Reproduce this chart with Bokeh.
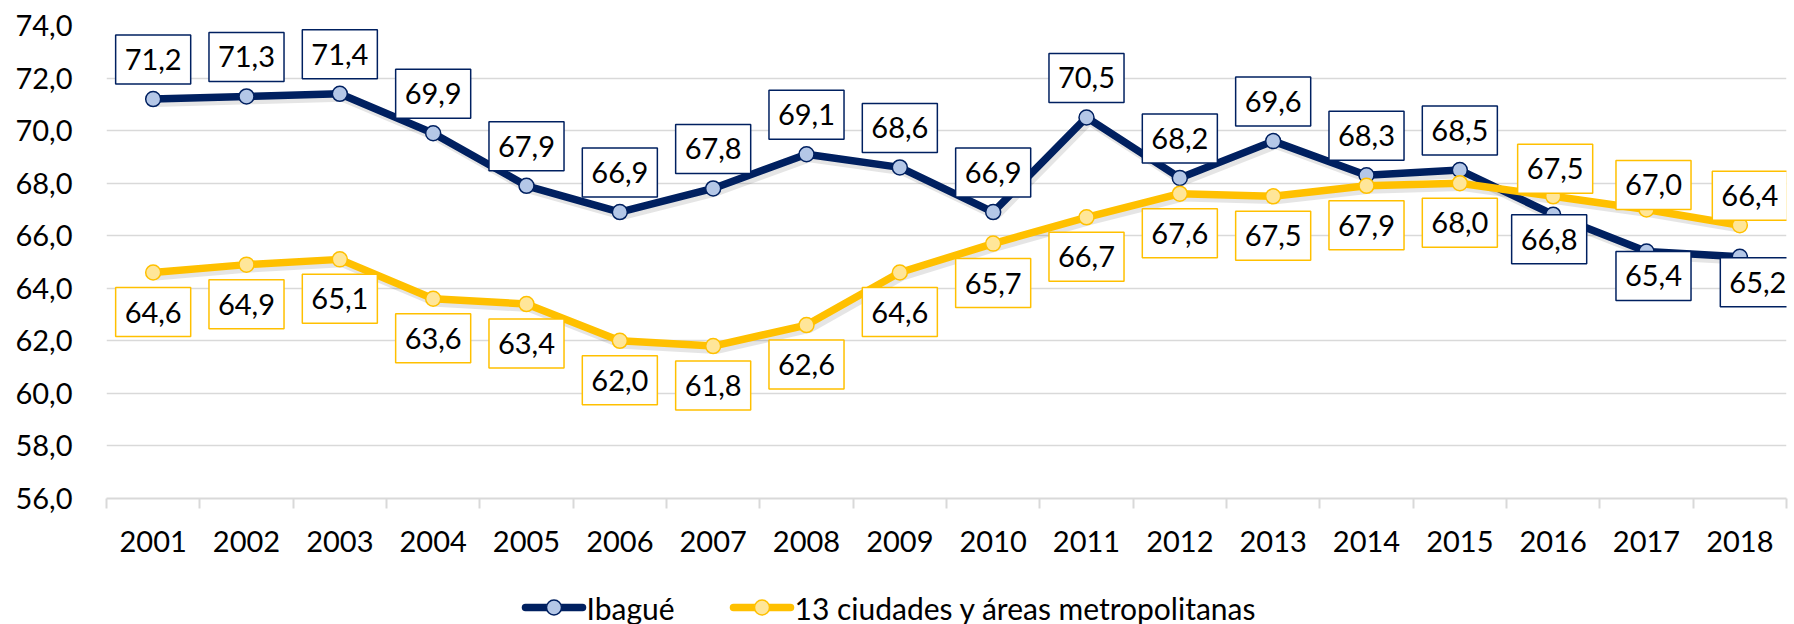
from bokeh.plotting import figure
from bokeh.layouts import column
from bokeh.models import (Range1d, FixedTicker, CustomJSTickFormatter, ColumnDataSource)
from bokeh.core.properties import value
from bokeh.embed import file_html
from bokeh.resources import INLINE

# ---------------- data ----------------
years = ["2001", "2002", "2003", "2004", "2005", "2006", "2007", "2008", "2009",
         "2010", "2011", "2012", "2013", "2014", "2015", "2016", "2017", "2018"]
ibague = [71.2, 71.3, 71.4, 69.9, 67.9, 66.9, 67.8, 69.1, 68.6,
          66.9, 70.5, 68.2, 69.6, 68.3, 68.5, 66.8, 65.4, 65.2]
ciudades = [64.6, 64.9, 65.1, 63.6, 63.4, 62.0, 61.8, 62.6, 64.6,
            65.7, 66.7, 67.6, 67.5, 67.9, 68.0, 67.5, 67.0, 66.4]
y_ticks = [56, 58, 60, 62, 64, 66, 68, 70, 72, 74]
series_names = ["Ibagué", "13 ciudades y áreas metropolitanas"]

# ---------------- label placement (style) ----------------
ibague_side = ["above"] * 15 + ["below"] * 3
ciudades_side = ["below"] * 15 + ["above"] * 3
ibague_gap = [15] * 15 + [0, 0, 1]
ciudades_gap = [15] * 15 + [3, 0, 5]
ibague_dx = [0] * 15 + [-4, 7, 18]
ciudades_dx = [0] * 15 + [2, 7, 10]

NAVY = "#002060"
NAVY_FILL = "#B4C7E7"
GOLD = "#FFC000"
GOLD_FILL = "#FFE699"
GRID = "#D9D9D9"
FONT = "Lato"
FS = "29px"
LEGEND_FS = "30px"

W = 1794
BORDER_L, BORDER_R = 106, 8

xs = [i + 0.5 for i in range(len(years))]

p = figure(width=W, height=568,
           x_range=Range1d(0, len(years)), y_range=Range1d(y_ticks[0], y_ticks[-1]),
           output_backend="svg", toolbar_location=None,
           min_border_left=BORDER_L, min_border_right=BORDER_R,
           min_border_top=25, min_border_bottom=70)
p.outline_line_color = None
p.background_fill_color = "white"
p.border_fill_color = "white"

# x axis
xa = p.xaxis[0]
xa.ticker = FixedTicker(ticks=xs, minor_ticks=list(range(len(years) + 1)))
xa.formatter = CustomJSTickFormatter(args=dict(labels=years),
                                     code="return labels[Math.floor(tick)];")
xa.axis_line_color = GRID
xa.axis_line_width = 2
xa.major_tick_line_color = None
xa.major_tick_out = 0
xa.major_tick_in = 0
xa.minor_tick_line_color = GRID
xa.minor_tick_line_width = 2
xa.minor_tick_out = 10
xa.minor_tick_in = 0
xa.major_label_standoff = 22
xa.major_label_text_font = FONT
xa.major_label_text_font_size = FS
xa.major_label_text_color = "black"

# y axis
ya = p.yaxis[0]
ya.ticker = FixedTicker(ticks=y_ticks, minor_ticks=[])
ya.formatter = CustomJSTickFormatter(code="return tick.toFixed(1).replace('.', ',');")
ya.axis_line_color = None
ya.major_tick_line_color = None
ya.major_tick_out = 0
ya.major_tick_in = 0
ya.minor_tick_line_color = None
ya.major_label_standoff = 34
ya.major_label_text_font = FONT
ya.major_label_text_font_size = FS
ya.major_label_text_color = "black"

p.xgrid.grid_line_color = None
p.ygrid.ticker = FixedTicker(ticks=y_ticks, minor_ticks=[])
p.ygrid.grid_line_color = GRID
p.ygrid.grid_line_width = 1.7

# shadows (style offsets)
SH_DX, SH_DY = 0.03, -0.13
for vals in (ibague, ciudades):
    p.line([x + SH_DX for x in xs], [v + SH_DY for v in vals],
           line_color="black", line_alpha=0.10, line_width=9, line_join="round")

src1 = ColumnDataSource(dict(x=xs, y=ibague))
src2 = ColumnDataSource(dict(x=xs, y=ciudades))
sources = [src1, src2]

LINE_STYLE = [dict(line_color=NAVY, line_width=7.5, line_join="round"),
              dict(line_color=GOLD, line_width=7.5, line_join="round")]
MARK_STYLE = [dict(marker="circle", size=15, fill_color=NAVY_FILL, line_color=NAVY, line_width=1.5),
              dict(marker="circle", size=15, fill_color=GOLD_FILL, line_color=GOLD, line_width=1.5)]

for src, ls, ms in zip(sources, LINE_STYLE, MARK_STYLE):
    p.line("x", "y", source=src, **ls)
    p.scatter("x", "y", source=src, **ms)


def add_labels(vals, sides, gaps, dxs, color):
    for side in ("above", "below"):
        idx = [i for i, s in enumerate(sides) if s == side]
        if not idx:
            continue
        sign = -1 if side == "above" else 1
        src = ColumnDataSource(dict(
            x=[xs[i] for i in idx],
            y=[vals[i] for i in idx],
            text=[f"{vals[i]:.1f}".replace(".", ",") for i in idx],
            dx=[dxs[i] for i in idx],
            dy=[sign * gaps[i] for i in idx],
        ))
        p.text("x", "y", text="text", source=src, x_offset="dx", y_offset="dy",
               anchor="bottom_center" if side == "above" else "top_center",
               text_font=value(FONT), text_font_size=FS, text_color="black",
               background_fill_color="white",
               border_line_color=color, border_line_width=1.5,
               padding=dict(left=9, right=9, top=14, bottom=14))


add_labels(ibague, ibague_side, ibague_gap, ibague_dx, NAVY)
add_labels(ciudades, ciudades_side, ciudades_gap, ciudades_dx, GOLD)

# ---------------- legend strip (x range in page pixels, frame aligned with the chart) ----------------
LEG_H = 56
LEG_KEY_X = [525, 733]      # left edge of each legend key, page px
LEG_KEY_W = 57
LEG_KEY_Y = 17              # key centre, px from strip bottom
LEG_TEXT_GAP = 4

lf = figure(width=W, height=LEG_H, output_backend="svg", toolbar_location=None,
            x_range=Range1d(BORDER_L, W - BORDER_R), y_range=Range1d(0, LEG_H),
            x_axis_location=None, y_axis_location=None,
            min_border_left=BORDER_L, min_border_right=BORDER_R,
            min_border_top=0, min_border_bottom=0)
lf.outline_line_color = None
lf.xgrid.grid_line_color = None
lf.ygrid.grid_line_color = None
lf.title.visible = False
for name, kx, ls, ms in zip(series_names, LEG_KEY_X, LINE_STYLE, MARK_STYLE):
    lf.line([kx, kx + LEG_KEY_W], [LEG_KEY_Y, LEG_KEY_Y], line_cap="round", **ls)
    lf.scatter([kx + LEG_KEY_W / 2], [LEG_KEY_Y], **ms)
    lf.text([kx + LEG_KEY_W + LEG_TEXT_GAP], [LEG_KEY_Y], text=[name],
            text_font=value(FONT), text_font_size=LEGEND_FS, text_color="black",
            text_align="left", text_baseline="middle")

layout = column(p, lf, spacing=0)
open("out.html", "w").write(file_html(layout, INLINE))
